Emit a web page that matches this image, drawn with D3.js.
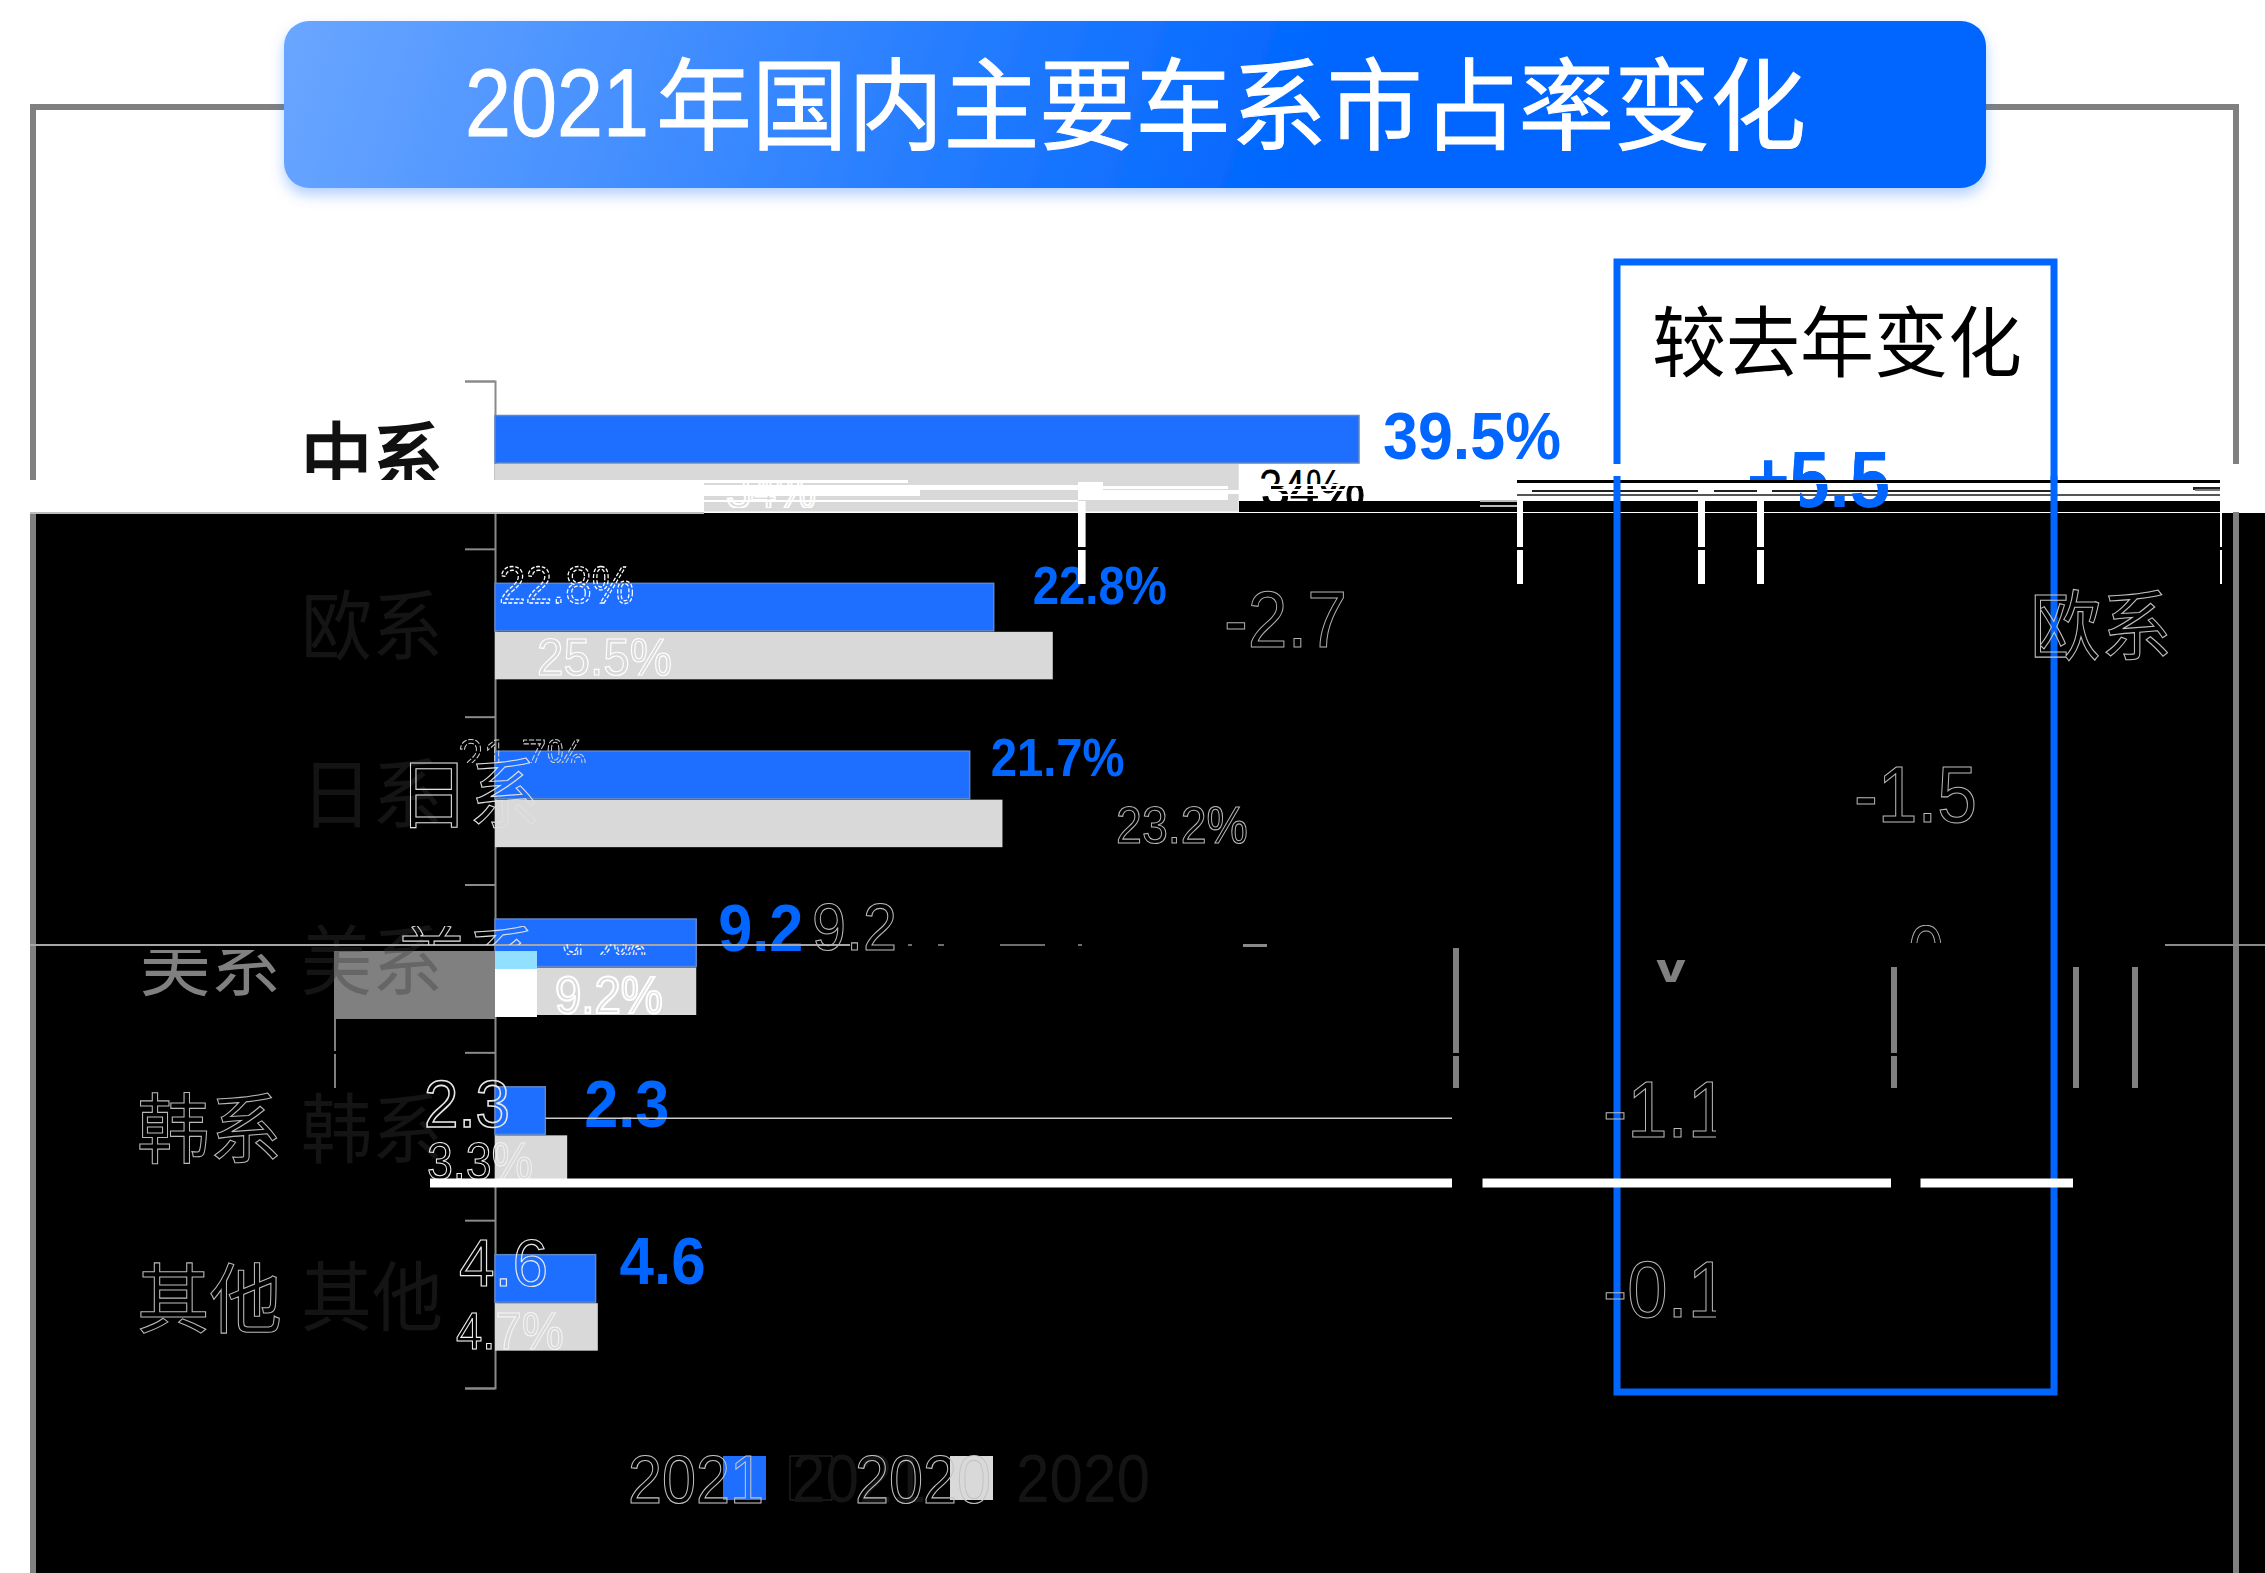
<!DOCTYPE html>
<html>
<head>
<meta charset="utf-8">
<script src="https://cdn.jsdelivr.net/npm/d3@7/dist/d3.min.js"></script>
<style>
  html, body { margin: 0; padding: 0; background: #fff; }
  svg { display: block; }
  text { font-family: "Liberation Sans", "Noto Sans CJK SC", sans-serif; }
</style>
</head>
<body>
<svg id="chart" width="2265" height="1573"></svg>
<script>
// Market share by car origin, 2021 against 2020
const categories = ["中系", "欧系", "日系", "美系", "韩系", "其他"];
const years = ["2021", "2020"];
const share2021 = [39.5, 22.8, 21.7, 9.2, 2.3, 4.6];
const share2020 = [34, 25.5, 23.2, 9.2, 3.3, 4.7];
const labels2021 = ["39.5%", "22.8%", "21.7%", "9.2", "2.3", "4.6"];
const labels2020 = ["34%", "25.5%", "23.2%", "9.2%", "3.3%", "4.7%"];
const changes = ["+5.5", "-2.7", "-1.5", "0", "-1.1", "-0.1"];
const titleYear = "2021";
const titleRest = "年国内主要车系市占率变化";
const panelTitle = "较去年变化";

const blue = "#1e6fff", accent = "#0066ff", grey = "#d9d9d9", frameGrey = "#808080", dark = "#141414";

const svg = d3.select("#chart");
const defs = svg.append("defs");

const x = d3.scaleLinear().domain([0, 39.5]).range([495, 1359]);
const y = d3.scaleBand().domain(categories).range([381, 1388]);
const yInner = d3.scaleBand().domain(years).range([34.5, 131.5]);
const edge = d3.scaleLinear().domain([0, categories.length]).range([381, 1388]);

// Shared text helper: the width argument fits the run to a measured extent.
let clipCount = 0;
function label(parent, str, px, base, size, opt = {}) {
  const t = parent.append("text").text(str)
    .attr("x", px).attr("y", base)
    .attr("font-size", size)
    .attr("font-weight", opt.weight || 400)
    .attr("fill", opt.fill || "none");
  if (opt.width) t.attr("textLength", opt.width).attr("lengthAdjust", "spacingAndGlyphs");
  if (opt.stroke) t.attr("stroke", opt.stroke).attr("stroke-width", opt.sw || 1);
  if (opt.dash) t.attr("stroke-dasharray", opt.dash);
  if (opt.clip) {
    const id = "c" + (++clipCount);
    const [cx, cy, cw, ch] = opt.clip;
    defs.append("clipPath").attr("id", id).append("rect")
      .attr("x", cx).attr("y", cy).attr("width", cw).attr("height", ch);
    t.attr("clip-path", `url(#${id})`);
  }
  return t;
}
function block(parent, x0, y0, x1, y1, fill) {
  return parent.append("rect").attr("x", x0).attr("y", y0)
    .attr("width", x1 - x0).attr("height", y1 - y0).attr("fill", fill);
}

// Page background and lower dark panel
block(svg, 0, 0, 2265, 1573, "#fff");
block(svg, 30, 513, 2265, 1573, "#000");

// Outer frame
svg.append("path")
  .attr("d", "M33,1573V107H2236V1573")
  .attr("fill", "none").attr("stroke", frameGrey).attr("stroke-width", 6);

// Title banner
const grad = defs.append("linearGradient").attr("id", "banner")
  .attr("gradientUnits", "userSpaceOnUse")
  .attr("x1", 284).attr("y1", 20).attr("x2", 1240).attr("y2", 330);
grad.append("stop").attr("offset", 0).attr("stop-color", "#6aa6ff");
grad.append("stop").attr("offset", 1).attr("stop-color", accent);
const shadow = defs.append("filter").attr("id", "lift")
  .attr("x", "-5%").attr("y", "-20%").attr("width", "110%").attr("height", "150%");
shadow.append("feDropShadow").attr("dx", 0).attr("dy", 7).attr("stdDeviation", 7)
  .attr("flood-color", accent).attr("flood-opacity", 0.3);
svg.append("rect").attr("x", 284).attr("y", 21).attr("width", 1702).attr("height", 167)
  .attr("rx", 25).attr("fill", "url(#banner)").attr("filter", "url(#lift)");
label(svg, titleYear, 465, 136, 96, { fill: "#fff", width: 184, stroke: "#fff", sw: 1 });
label(svg, titleRest, 656, 142, 100, { fill: "#fff", width: 1150, stroke: "#fff", sw: 1 });

// Year-on-year panel outline and heading
svg.append("rect").attr("x", 1617).attr("y", 262).attr("width", 437).attr("height", 1130)
  .attr("fill", "none").attr("stroke", accent).attr("stroke-width", 7);
label(svg, panelTitle, 1652, 371, 77, { fill: "#000", width: 370 });

// Category axis with ticks on the band edges
svg.append("g").attr("transform", "translate(495,0)")
  .call(d3.axisLeft(edge).tickValues(d3.range(categories.length + 1)).tickFormat("").tickSize(30))
  .call(g => g.selectAll("path,line").attr("stroke", "#8a8a8a").attr("stroke-width", 2));

// Category names
svg.append("g").selectAll("g").data(categories).join("g").each(function (d, i) {
  const base = y(d) + y.bandwidth() / 2 + 21;
  if (i === 0) label(d3.select(this), d, 301, base, 76, { fill: "#111", stroke: "#111", sw: 2.4, width: 142, clip: [0, 400, 600, 80] });
  else label(d3.select(this), d, 301, base, 76, { fill: dark, width: 142 });
});

// Bars
const rows = categories.map((c, i) => ({ c, v2021: share2021[i], v2020: share2020[i] }));
const bars = svg.append("g");
bars.selectAll(".b21").data(rows).join("rect").attr("class", "b21")
  .attr("x", x(0)).attr("y", d => y(d.c) + yInner("2021"))
  .attr("width", d => x(d.v2021) - x(0)).attr("height", yInner.bandwidth() - 1)
  .attr("fill", blue).attr("stroke", "#5f87c4").attr("stroke-width", 1.5);
bars.selectAll(".b20").data(rows).join("rect").attr("class", "b20")
  .attr("x", x(0)).attr("y", d => y(d.c) + yInner("2020"))
  .attr("width", d => x(d.v2020) - x(0)).attr("height", yInner.bandwidth() - 1)
  .attr("fill", grey);

// Value labels of the current year
const labelGap = [24, 39, 21, 22, 39, 24];
const labelDrop = [78, 55, 59, 66, 75, 64];
const labelSize = [67, 53, 53, 67, 66, 66];
const labelWidth = [178, 134, 134, 85, 85, 86];
labels2021.forEach((s, i) => {
  label(svg, s, x(share2021[i]) + labelGap[i], edge(i) + labelDrop[i], labelSize[i],
    { fill: accent, weight: 700, width: labelWidth[i] });
});

// Change value for the leading row
label(svg, changes[0], 1747, 507, 80, { fill: accent, weight: 700, width: 143 });

// Horizontal break across the 中系 row
const band = svg.append("g");
block(band, 30, 480, 704, 513, "#fff");
block(band, 30, 512, 704, 514, "#bdbdbd");
[[704, 480, 908, 483], [704, 485, 1078, 490], [704, 490, 920, 496], [704, 500, 1078, 502],
 [1078, 482, 1103, 500], [1103, 486, 1228, 489], [1103, 494, 1228, 500], [1086, 490, 1239, 494]]
  .forEach(r => block(band, r[0], r[1], r[2], r[3], "#fff"));
block(band, 1239, 464, 1740, 500, "#fff");
block(band, 1740, 480, 2240, 500, "#fff");
block(band, 1239, 500, 1517, 512, "#000");
block(band, 1239, 500, 1517, 501, "#fff");
block(band, 1480, 500, 1517, 502, "#bbb");
block(band, 1480, 505, 1517, 507, "#bbb");
block(band, 1517, 480, 2220, 483, "#000");
block(band, 1532, 490, 1698, 492, "#222");
block(band, 1714, 490, 1757, 492, "#222");
block(band, 1772, 490, 2052, 492, "#222");
block(band, 1517, 494, 2220, 496, "#555");
block(band, 1517, 500, 2220, 501, "#fff");
block(band, 1523, 501, 2220, 512, "#000");
block(band, 2220, 464, 2240, 512, "#fff");
block(band, 2240, 480, 2265, 513, "#fff");
block(band, 2193, 487, 2220, 490, "#222");
block(band, 2195, 489, 2220, 491, "#777");

// Blue panel sides and the heading value show through the break
[[1613.5, 1620.5], [2050.5, 2057.5]].forEach(s => block(band, s[0], 476, s[1], 513, accent));
label(band, changes[0], 1747, 507, 80, { fill: accent, weight: 700, width: 143, clip: [1747, 460, 143, 20] });
label(band, changes[0], 1747, 507, 80, { fill: accent, weight: 700, width: 143, clip: [1800, 484, 90, 24] });

// 34% label and its broken lower half
label(svg, labels2020[0], 1259, 505, 50, { fill: "#000", width: 84, clip: [1250, 465, 110, 19] });
label(svg, labels2020[0], 1261, 506, 52, { fill: "#000", stroke: "#000", sw: 1, width: 104, clip: [1255, 484, 130, 24] });
[[1255, 484, 1385, 486], [1262, 489, 1345, 491], [1262, 494, 1330, 496]]
  .forEach(r => block(svg, r[0], r[1], r[2], r[3], "#fff"));
label(svg, labels2020[0], 726, 508, 50, { stroke: "#fff", sw: 2, width: 90, clip: [720, 482, 100, 26] });

// Vertical white strokes below the break
[[1078, 1085.6], [1517, 1523], [1698, 1705], [1757, 1764], [2220, 2222]].forEach(s => {
  block(svg, s[0], 501, s[1], 547, "#fff");
  block(svg, s[0], 550, s[1], 584, "#fff");
});

// Outlined echoes of the labels
const echoes = [
  ["22.8%", 499, 603, 52, 135, "#fff", 1.3, "4 2", null],
  ["25.5%", 537, 675, 52, 135, "#fff", 1.2, null, null],
  [labels2021[2], 458, 776, 52, 129, "#d0d0d0", 1.1, "6 2", [450, 738, 150, 25]],
  ["日系", 398, 822, 76, 142, "#e0e0e0", 1.1, null, null],
  ["23.2%", 1116, 843, 52, 132, "#b4b4b4", 1.1, null, null],
  ["-2.7", 1224, 647, 80, 123, "#b0b0b0", 1.1, null, null],
  ["欧系", 2030, 654, 76, 142, "#c0c0c0", 1.1, null, null],
  ["-1.5", 1854, 822, 80, 123, "#b8b8b8", 1.1, null, null],
  ["9.2", 812, 950, 66, 85, "#b8b8b8", 1.1, null, null],
  ["0", 1908, 981, 80, 36, "#b0b0b0", 1.1, null, [1900, 925, 60, 18]],
  ["美系", 396, 990, 76, 142, "#e0e0e0", 1.1, null, [390, 926, 150, 19]],
  ["9.2%", 562, 968, 50, 84, "#fff", 1.4, "5 3", [555, 944, 100, 11]],
  ["2.3", 424, 1127, 66, 86, "#e8e8e8", 1.6, null, null],
  ["3.3%", 427, 1179, 52, 106, "#f0f0f0", 1.1, null, null],
  ["韩系", 137, 1157, 76, 145, "#b8b8b8", 1.1, null, null],
  ["4.6", 459, 1286, 66, 89, "#e8e8e8", 1.2, null, null],
  ["4.7%", 456, 1349, 52, 108, "#f4f4f4", 1.1, null, null],
  ["其他", 137, 1327, 76, 145, "#b8b8b8", 1.1, null, null],
  ["-1.1", 1603, 1137, 80, 125, "#b8b8b8", 1.1, null, [1595, 1075, 121, 70]],
  ["-0.1", 1603, 1317, 80, 125, "#b8b8b8", 1.1, null, [1595, 1255, 121, 70]]
];

// Grey patch and light blocks in the 美系 row
block(svg, 334, 951, 495, 1019, "#808080");
block(svg, 495, 951, 537, 969, "#92e0ff");
block(svg, 495, 969, 537, 1017, "#fff");
label(svg, categories[3], 301, 989, 76, { fill: "#666", width: 142, clip: [334, 951, 161, 68] });
label(svg, categories[3], 140, 990, 76, { fill: "#808080", width: 141, clip: [130, 950, 160, 50] });
block(svg, 334, 1019, 336, 1088, "#808080");
block(svg, 333, 1051, 337, 1054, "#000");
block(svg, 30, 944, 850, 946, "#a6a6a6");
[[908, 912], [938, 944], [1000, 1045], [1078, 1082]].forEach(s => block(svg, s[0], 944, s[1], 946, "#6e6e6e"));
block(svg, 1243, 944, 1267, 947, "#8a8a8a");
block(svg, 2165, 944, 2265, 946, "#8a8a8a");
[[1453, 948], [1891, 967], [2073, 967], [2132, 967]].forEach(s => block(svg, s[0], s[1], s[0] + 6, 1088, "#808080"));
block(svg, 1450, 1053, 1462, 1056, "#000");
block(svg, 1888, 1053, 1900, 1056, "#000");
label(svg, "v", 1655, 982, 46, { fill: "#808080", weight: 700, width: 32, clip: [1640, 960, 60, 24] });

echoes.forEach(([s, px, base, size, w, stroke, sw, dash, clip]) => {
  label(svg, s, px, base, size, { width: w, stroke, sw, dash, clip });
});
label(svg, "9.2%", 555, 1013, 52, { width: 108, stroke: "#fff", sw: 2.2 });

// White bars crossing the 韩系 row
block(svg, 545.5, 1117.5, 1452, 1119, "#ccc");
[[430, 1452], [1482.5, 1891], [1920.5, 2073]].forEach(s => block(svg, s[0], 1178.5, s[1], 1187.5, "#fff"));

// Legend
const legendKeys = [
  { year: years[0], fill: blue, kx: 723, lx: 792, echo: 628 },
  { year: years[1], fill: grey, kx: 950, lx: 1016, echo: 855 }
];
svg.append("rect").attr("x", 790).attr("y", 1456).attr("width", 42).attr("height", 44)
  .attr("fill", "none").attr("stroke", "#2a2a2a");
legendKeys.forEach(k => {
  block(svg, k.kx, 1456, k.kx + 43, 1500, k.fill);
  label(svg, k.year, k.lx, 1502, 68, { fill: dark, width: 134 });
  label(svg, k.year, k.echo, 1503, 68, { width: 136, stroke: "#c4c4c4", sw: 1.1 });
});
</script>
</body>
</html>
